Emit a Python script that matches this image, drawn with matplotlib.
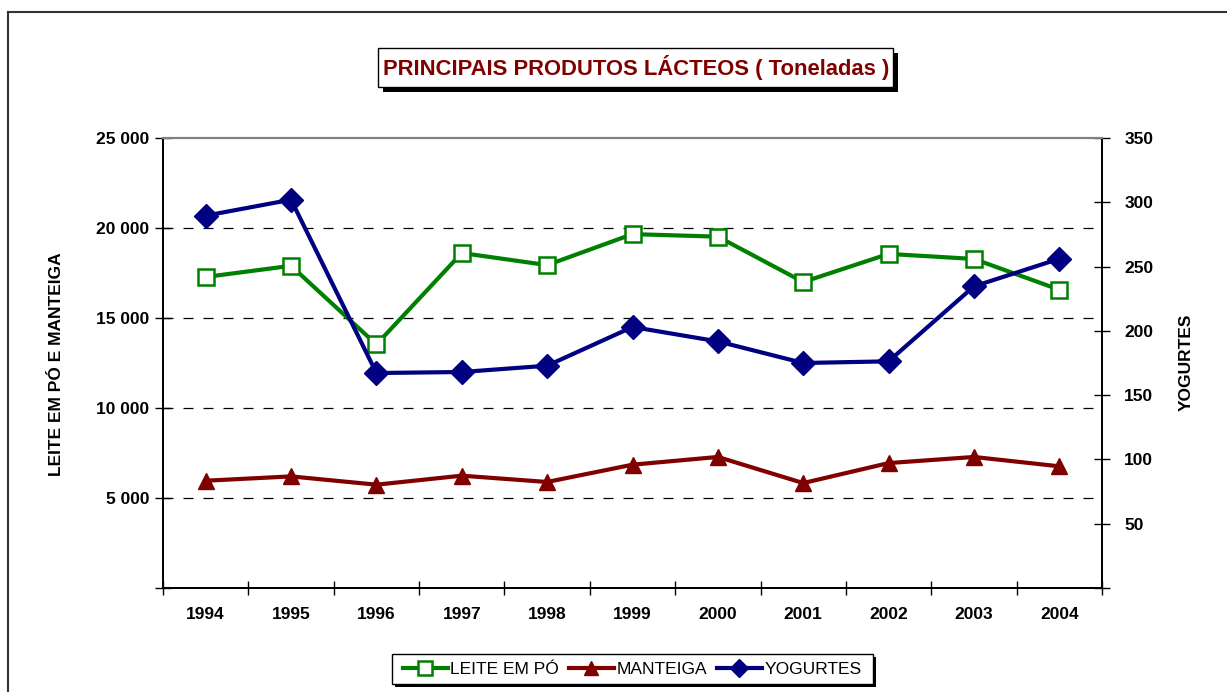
#!/usr/bin/env python3

import numpy as np
from matplotlib import pyplot as plt
from matplotlib.lines import Line2D
from matplotlib.patches import Rectangle

YEARS = ['1994', '1995', '1996', '1997', '1998', '1999', '2000', '2001', '2002', '2003', '2004']
LEITE = [17280, 17900, 13530, 18610, 17940, 19660, 19520, 17000, 18560, 18280, 16570]
MANTEIGA = [5960, 6200, 5740, 6240, 5890, 6850, 7280, 5830, 6940, 7280, 6760]
YOGURTES = [289.6, 302.0, 167.2, 168.0, 172.9, 203.0, 191.8, 175.0, 176.3, 234.6, 256.1]

LEFT_TICKS = [0, 5000, 10000, 15000, 20000, 25000]
RIGHT_TICKS = [0, 50, 100, 150, 200, 250, 300, 350]

GREEN = '#008000'
RED = '#800000'
NAVY = '#000080'

plt.rcParams['font.family'] = ['Liberation Sans', 'DejaVu Sans']

W, H = 1227, 692

def fmt(v):
  return '' if v == 0 else f'{v:,}'.replace(',', ' ')

def px_box(fig, x0, y0, x1, y1, shadow):
  # shadow first, then white box (pixel coords, top-left origin)
  fig.patches.append(Rectangle((x0 + shadow, H - y1 - shadow), x1 - x0, y1 - y0,
                               transform=None, facecolor='black', edgecolor='none', zorder=5))
  fig.patches.append(Rectangle((x0, H - y1), x1 - x0, y1 - y0,
                               transform=None, facecolor='white', edgecolor='black', lw=1, zorder=6))

def main():
  fig = plt.figure(figsize=(W / 100, H / 100), dpi=100)
  ax = fig.add_axes([163 / W, 1 - 588 / H, (1102 - 163) / W, (588 - 138) / H])
  ax2 = ax.twinx()

  x = np.arange(len(YEARS))
  ax.plot(x, LEITE, color=GREEN, lw=3, marker='s', ms=11, mfc='white', mec=GREEN, mew=1.8, zorder=3)
  ax.plot(x, MANTEIGA, color=RED, lw=3, marker='^', ms=11, mfc=RED, mec=RED, zorder=3)
  ax2.plot(x, YOGURTES, color=NAVY, lw=3, marker='D', ms=12, mfc=NAVY, mec=NAVY, zorder=3)

  ax.set_xlim(-0.5, len(YEARS) - 0.5)
  ax.set_ylim(0, 25000)
  ax2.set_ylim(0, 350)

  ax.set_xticks(x, YEARS, fontsize=12.5, fontweight='bold')
  ax.tick_params(axis='x', which='major', length=0, pad=14)
  ax.set_xticks(np.arange(-0.5, len(YEARS), 1.0), minor=True)
  ax.tick_params(axis='x', which='minor', direction='inout', length=10, width=1)

  ax.set_yticks(LEFT_TICKS, [fmt(v) for v in LEFT_TICKS], fontsize=12.5, fontweight='bold')
  ax.tick_params(axis='y', direction='inout', length=12, width=1, pad=4)
  ax2.set_yticks(RIGHT_TICKS, [fmt(v) for v in RIGHT_TICKS], fontsize=12.5, fontweight='bold')
  ax2.tick_params(axis='y', direction='inout', length=12, width=1, pad=10)

  for g in LEFT_TICKS[1:-1]:
    ax.axhline(g, color='black', lw=0.9, ls=(0, (8, 8)), zorder=1)

  for a in (ax, ax2):
    a.spines['top'].set_color('#808080')
    a.spines['top'].set_linewidth(1.5)
    a.spines['left'].set_linewidth(1.3)
    a.spines['right'].set_linewidth(1.3)
    a.spines['bottom'].set_linewidth(1.3)

  fig.text(57 / W, 1 - 364 / H, 'LEITE EM PÓ E MANTEIGA', rotation=90, ha='center', va='center',
           fontsize=12.5, fontweight='bold')
  fig.text(1186 / W, 1 - 362 / H, 'YOGURTES', rotation=90, ha='center', va='center',
           fontsize=12.5, fontweight='bold')

  # title in a box with shadow
  px_box(fig, 378, 48, 893, 87, 5)
  fig.text(636 / W, 1 - 68 / H, 'PRINCIPAIS PRODUTOS LÁCTEOS ( Toneladas )', ha='center', va='center',
           fontsize=15.8, fontweight='bold', color=RED, zorder=7)

  # legend in a box with shadow
  px_box(fig, 392, 654, 873, 684, 3)
  handles = [
    Line2D([], [], color=GREEN, lw=3, marker='s', ms=10, mfc='white', mec=GREEN, mew=1.8),
    Line2D([], [], color=RED, lw=3, marker='^', ms=10, mfc=RED, mec=RED),
    Line2D([], [], color=NAVY, lw=3, marker='D', ms=9, mfc=NAVY, mec=NAVY),
  ]
  leg = fig.legend(handles, ['LEITE EM PÓ', 'MANTEIGA', 'YOGURTES'], loc='center',
                   bbox_to_anchor=(632 / W, 1 - 669 / H), ncol=3, frameon=False,
                   fontsize=12.5, handlelength=2.6, handletextpad=0.15, columnspacing=0.55)
  leg.set_zorder(8)

  # outer frame (top and left edges)
  fig.lines.append(Line2D([8, W], [H - 12, H - 12], transform=None, color='#333333', lw=1.5))
  fig.lines.append(Line2D([8, 8], [H - 12, 0], transform=None, color='#333333', lw=1.5))

  fig.savefig('out.png', dpi=100)

if __name__ == "__main__":
  main()
